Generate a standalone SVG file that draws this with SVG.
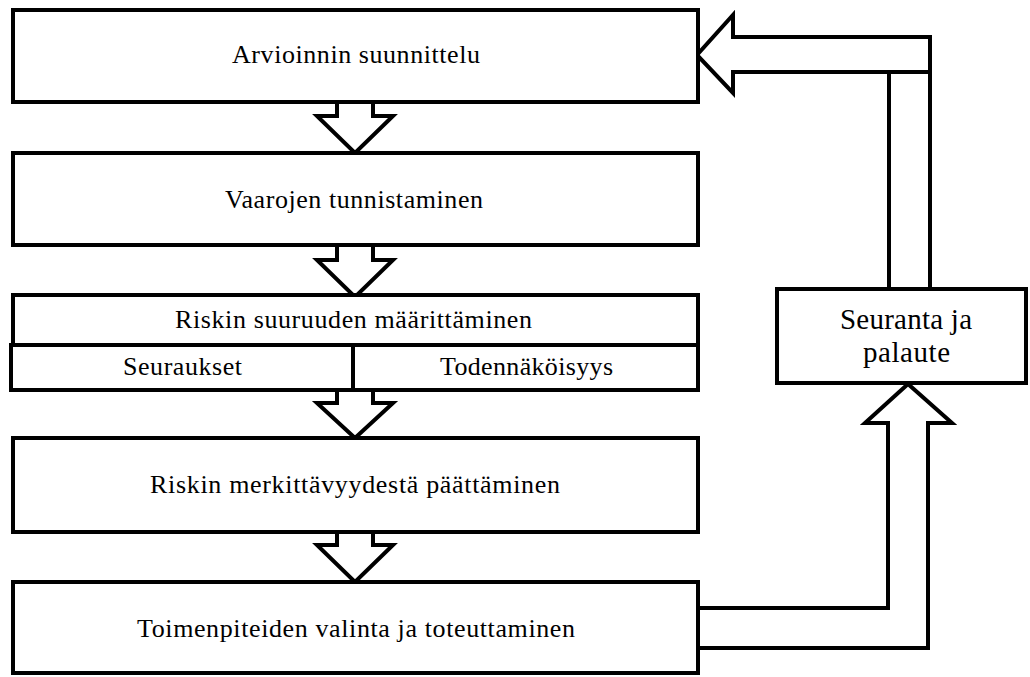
<svg xmlns="http://www.w3.org/2000/svg" width="1030" height="677" viewBox="0 0 1030 677">
  <style>
    .box { fill: #ffffff; stroke: #000000; stroke-width: 4; stroke-linejoin: miter; }
    .arrow { fill: #ffffff; stroke: #000000; stroke-width: 4; stroke-linejoin: miter; }
    .line { fill: none; stroke: #000000; stroke-width: 4; }
    .label { font-family: "Liberation Serif", "Times New Roman", serif; font-size: 26px; fill: #000000; }
    .big { font-size: 29px; }
  </style>
  <rect width="1030" height="677" fill="#ffffff"/>

  <!-- connectors -->
  <g id="connectors">
    <polygon class="arrow" points="337,102 337,116 317,116 355,153 393,116 373,116 373,102"/>
    <polygon class="arrow" points="337,245 337,260 317,260 355,297 393,260 373,260 373,245"/>
    <polygon class="arrow" points="337,390 337,403 317,403 355,438 393,403 373,403 373,390"/>
    <polygon class="arrow" points="337,532 337,545 317,545 355,582 393,545 373,545 373,532"/>
    <!-- from actions up to monitoring -->
    <polygon class="arrow" points="698,608 888,608 888,423 865,423 908,384 952,423 928,423 928,648 698,648"/>
    <!-- feedback back to planning -->
    <polyline class="line" points="889,289 889,72"/>
    <polyline class="line" points="930,289 930,72"/>
    <polygon class="arrow" points="930,37 733,37 733,15 697,55 733,93 733,72 930,72"/>
  </g>

  <g id="node-suunnittelu">
    <rect class="box" x="13" y="10" width="685" height="92"/>
    <text class="label" x="232" y="63" textLength="248">Arvioinnin suunnittelu</text>
  </g>

  <g id="node-tunnistaminen">
    <rect class="box" x="13" y="153" width="685" height="92"/>
    <text class="label" x="225" y="208" textLength="258">Vaarojen tunnistaminen</text>
  </g>

  <g id="node-suuruus">
    <rect class="box" x="13" y="295" width="685" height="50"/>
    <text class="label" x="175" y="328" textLength="357">Riskin suuruuden määrittäminen</text>
  </g>

  <g id="node-seuraukset">
    <rect class="box" x="11" y="345" width="342" height="45"/>
    <text class="label" x="123" y="375" textLength="119">Seuraukset</text>
  </g>

  <g id="node-todennakoisyys">
    <rect class="box" x="353" y="345" width="345" height="45"/>
    <text class="label" x="440" y="375" textLength="173">Todennäköisyys</text>
  </g>

  <g id="node-merkittavyys">
    <rect class="box" x="13" y="438" width="685" height="94"/>
    <text class="label" x="150" y="493" textLength="410">Riskin merkittävyydestä päättäminen</text>
  </g>

  <g id="node-toimenpiteet">
    <rect class="box" x="13" y="582" width="685" height="91"/>
    <text class="label" x="137" y="637" textLength="438">Toimenpiteiden valinta ja toteuttaminen</text>
  </g>

  <g id="node-seuranta">
    <rect class="box" x="777" y="289" width="249" height="94"/>
    <text class="label big" x="840" y="329" textLength="132">Seuranta ja</text>
    <text class="label big" x="863" y="362" textLength="87">palaute</text>
  </g>
</svg>
